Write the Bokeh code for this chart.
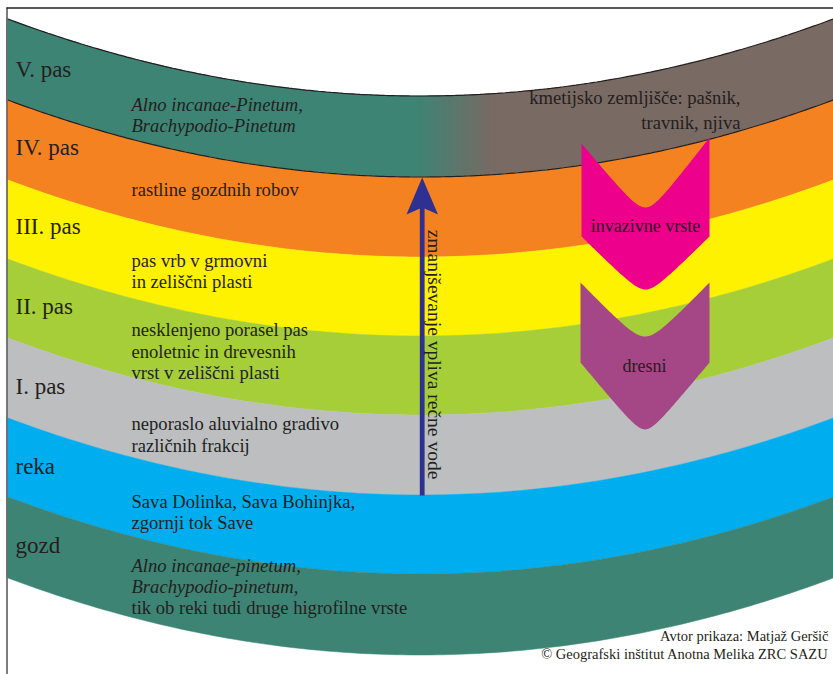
import numpy as np
from bokeh.plotting import figure
from bokeh.models import Range1d
from bokeh.core.properties import value
from bokeh.embed import file_html
from bokeh.resources import INLINE

# ---------------- data ----------------
band_names = ["V. pas", "IV. pas", "III. pas", "II. pas", "I. pas", "reka", "gozd"]
band_colors = ["#3D8474", "#F58220", "#FFF200", "#A6CE39", "#BCBEC0", "#00AEEF", "#3D8474"]
band_edges = [18, 99, 179, 258, 337, 417, 496, 577]      # left-edge y of each boundary
band_label_y = [75, 153, 232, 312, 392, 472, 551]

farm_color = "#7A6A64"

desc_lines = [
    "Alno incanae-Pinetum,", "Brachypodio-Pinetum",
    "rastline gozdnih robov",
    "pas vrb v grmovni", "in zeliščni plasti",
    "nesklenjeno porasel pas", "enoletnic in drevesnih", "vrst v zeliščni plasti",
    "neporaslo aluvialno gradivo", "različnih frakcij",
    "Sava Dolinka, Sava Bohinjka,", "zgornji tok Save",
    "Alno incanae-pinetum,", "Brachypodio-pinetum,", "tik ob reki tudi druge higrofilne vrste",
]
desc_y = [110, 131, 195, 266, 287, 335, 357, 378, 429, 451, 507, 528, 571, 592, 613]
desc_italic = [True, True, False, False, False, False, False, False, False, False,
               False, False, True, True, False]

farm_lines = ["kmetijsko zemljišče: pašnik,", "travnik, njiva"]
farm_y = [103, 128]

arrow_text = "zmanjševanje vpliva rečne vode"
chevron_labels = ["invazivne vrste", "dresni"]
chevron_label_y = [232, 372]
chevron_colors = ["#EC008C", "#A54687"]
credits = ["Avtor prikaza: Matjaž Geršič", "© Geografski inštitut Anotna Melika ZRC SAZU"]
credits_y = [642, 660]

TXT = "#231F20"
FONT = value("Liberation Serif")
DY = -6.5   # baseline correction for the renderer

# ---------------- figure ----------------
p = figure(width=833, height=674, x_range=Range1d(0, 833), y_range=Range1d(674, 0),
           output_backend="svg", toolbar_location=None, min_border=0,
           x_axis_location=None, y_axis_location=None)
p.grid.visible = False
p.outline_line_color = None
p.background_fill_color = "white"
p.border_fill_color = "white"

XC, HW, DIP = 420.0, 414.0, 77.5


def curve(x, edge):
    return edge + DIP * (1 - ((x - XC) / HW) ** 2)


def band_poly(x0, x1, e_top, e_bot, n=120):
    xs = np.linspace(x0, x1, n)
    return (np.concatenate([xs, xs[::-1]]),
            np.concatenate([curve(xs, e_top), curve(xs[::-1], e_bot)]))


# bands
for i, col in enumerate(band_colors):
    if i == 0:
        bx, by = band_poly(6, 833, band_edges[0], band_edges[1])
        p.patch(bx, by, fill_color=farm_color, line_color=None)
        bx, by = band_poly(6, 416, band_edges[0], band_edges[1])
        p.patch(bx, by, fill_color=col, line_color=col, line_width=0.5)
        # gradient teal -> brown
        c0 = np.array([0x3D, 0x84, 0x74], float)
        c1 = np.array([0x7A, 0x6A, 0x64], float)
        g = np.linspace(416, 494, 40)
        gx, gy, gc = [], [], []
        for k in range(len(g) - 1):
            t = (k + 0.5) / (len(g) - 1)
            c = c0 + (c1 - c0) * t
            hexc = "#%02X%02X%02X" % tuple(int(round(v)) for v in c)
            sx, sy = band_poly(g[k], g[k + 1] + 0.6, band_edges[0], band_edges[1], n=4)
            gx.append(sx); gy.append(sy); gc.append(hexc)
        p.patches(gx, gy, fill_color=gc, line_color=gc, line_width=0.5)
    else:
        bx, by = band_poly(6, 833, band_edges[i], band_edges[i + 1])
        p.patch(bx, by, fill_color=col, line_color=col, line_width=0.5)

xs_line = np.linspace(6, 833, 200)
p.line(xs_line, curve(xs_line, band_edges[0]), line_color=TXT, line_width=1.2)
p.line(xs_line, curve(xs_line, band_edges[1]), line_color=TXT, line_width=1.2)


# chevrons
def vpath(x0, x1, yl, yr, ytip, a, n=40):
    xc = (x0 + x1) / 2.0
    dx = xc - x0
    sl = np.sqrt((ytip - yl + a) ** 2 - a ** 2) / dx
    sr = np.sqrt((ytip - yr + a) ** 2 - a ** 2) / dx
    xsl = np.linspace(x0, xc, n)
    xsr = np.linspace(xc, x1, n)[1:]
    yls = ytip - (np.sqrt(a ** 2 + (sl * (xsl - xc)) ** 2) - a)
    yrs = ytip - (np.sqrt(a ** 2 + (sr * (xsr - xc)) ** 2) - a)
    return np.concatenate([xsl, xsr]), np.concatenate([yls, yrs])


def chevron(x0, x1, ytl, ytr, ynotch, yside, ytip):
    tx, ty = vpath(x0, x1, ytl, ytr, ynotch, 15)
    bx, by = vpath(x0, x1, yside, yside, ytip, 12)
    return (np.concatenate([tx, bx[::-1]]), np.concatenate([ty, by[::-1]]))


cx, cy = chevron(581, 709, 143, 137, 207, 236, 289)
p.patch(cx, cy, fill_color=chevron_colors[0], line_color=None)
cx, cy = chevron(580, 709, 282, 282, 336, 362, 429)
p.patch(cx, cy, fill_color=chevron_colors[1], line_color=None)

# arrow
p.line([421.7, 421.7], [495, 205], line_color="#2E3192", line_width=4.8)
p.patch([421.7, 437.5, 421.7, 406], [177, 214, 207, 214], fill_color="#2E3192", line_color=None)

# frame
p.line([6.5, 6.5], [7, 674], line_color="#6D6E71", line_width=1.8)
p.line([6, 833], [7.5, 7.5], line_color=TXT, line_width=1.5)

# texts
p.text(x=[15] * len(band_names), y=[v + DY for v in band_label_y], text=band_names, text_font=FONT,
       text_font_size="23px", text_color=TXT, text_baseline="alphabetic", text_align="left")

for style in (True, False):
    idx = [i for i, it in enumerate(desc_italic) if it == style]
    p.text(x=[131] * len(idx), y=[desc_y[i] + DY for i in idx], text=[desc_lines[i] for i in idx],
           text_font=FONT, text_font_size="18.6px", text_font_style="italic" if style else "normal",
           text_color=TXT, text_baseline="alphabetic", text_align="left")

p.text(x=[740, 740], y=[v + DY for v in farm_y], text=farm_lines, text_font=FONT,
       text_font_size="18.6px", text_color=TXT, text_baseline="alphabetic", text_align="right")

p.text(x=[645, 644], y=[v + DY for v in chevron_label_y], text=chevron_labels, text_font=FONT,
       text_font_size="18px", text_color=TXT, text_baseline="alphabetic", text_align="center")

p.text(x=[434], y=[354], text=[arrow_text], angle=-np.pi / 2, text_font=FONT,
       text_font_size="19.5px", text_color=TXT, text_baseline="middle", text_align="center")

p.text(x=[828, 828], y=[v + DY for v in credits_y], text=credits, text_font=FONT,
       text_font_size="14.5px", text_color=TXT, text_baseline="alphabetic", text_align="right")

open("out.html", "w").write(file_html(p, INLINE))
